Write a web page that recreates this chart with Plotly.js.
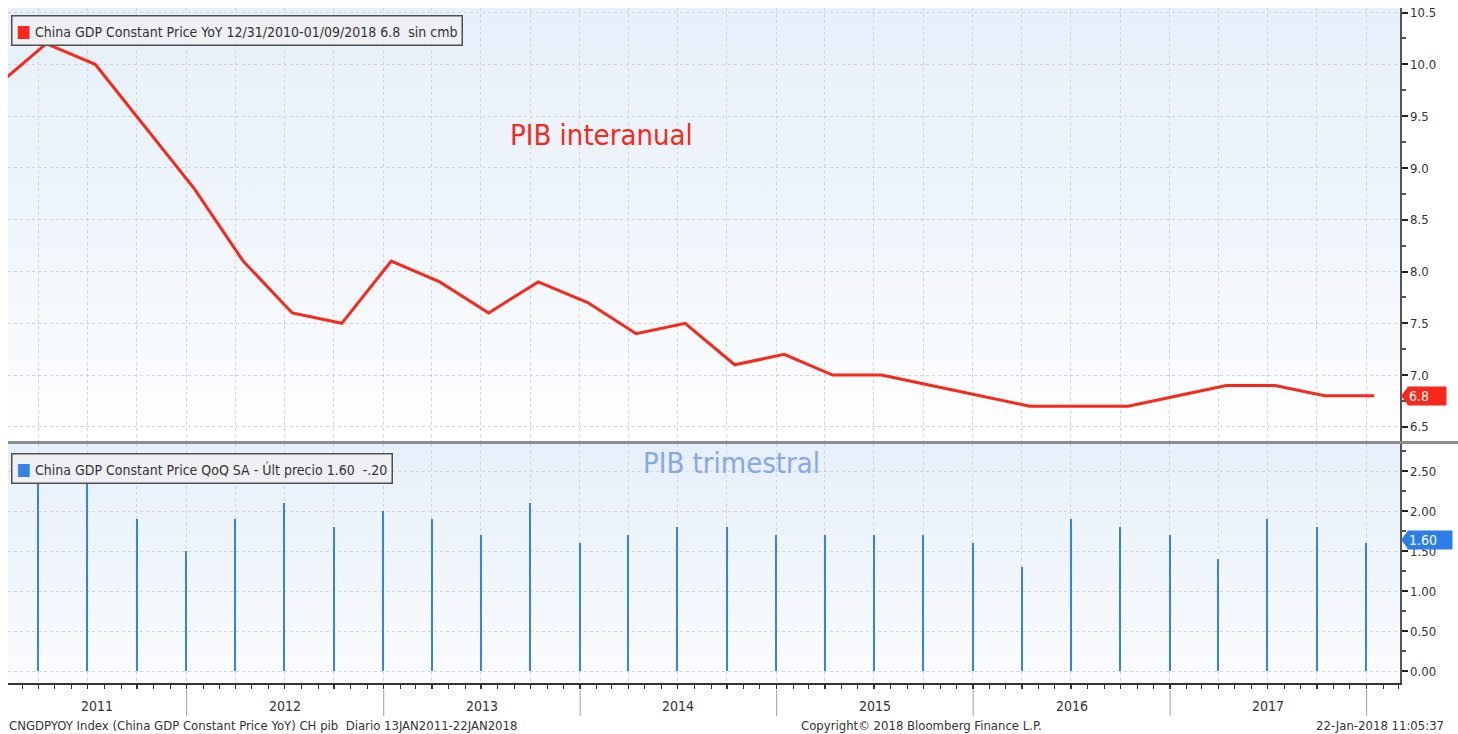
<!DOCTYPE html>
<html>
<head>
<meta charset="utf-8">
<script src="https://cdn.plot.ly/plotly-3.0.1.min.js"></script>
<style>
  html, body { margin:0; padding:0; background:#ffffff; }
  #wrap { position:relative; width:1458px; height:734px; overflow:hidden; }
  #bgTop { position:absolute; left:8px; top:8px; width:1392px; height:433px;
           background:linear-gradient(to bottom, #e6f0fa 0%, #eef4fb 45%, #f8fbfd 80%, #ffffff 100%); }
  #bgBot { position:absolute; left:8px; top:444px; width:1392px; height:239px;
           background:linear-gradient(to bottom, #e6f0fa 0%, #eff5fb 50%, #fbfcfe 100%); }
  #chart { position:absolute; left:0; top:0; width:1458px; height:734px; }
</style>
</head>
<body>
<div id="wrap">
  <div id="bgTop"></div>
  <div id="bgBot"></div>
  <div id="chart"></div>
</div>
<script>
// ---- Data ----
// YoY series: points plotted shortly after each quarter end
const yoyDates = ['2011-01-15','2011-04-15','2011-07-15','2011-10-15','2012-01-15',
  '2012-04-15','2012-07-15','2012-10-15','2013-01-15',
  '2013-04-15','2013-07-15','2013-10-15','2014-01-15',
  '2014-04-15','2014-07-15','2014-10-15','2015-01-15',
  '2015-04-15','2015-07-15','2015-10-15','2016-01-15',
  '2016-04-15','2016-07-15','2016-10-15','2017-01-15',
  '2017-04-15','2017-07-15','2017-10-15','2018-01-15'];
const yoyValues = [9.8, 10.2, 10.0, 9.4, 8.8,
  8.1, 7.6, 7.5, 8.1,
  7.9, 7.6, 7.9, 7.7,
  7.4, 7.5, 7.1, 7.2,
  7.0, 7.0, 6.9, 6.8,
  6.7, 6.7, 6.7, 6.8,
  6.9, 6.9, 6.8, 6.8];

// QoQ series: quarter ends
const qoqDates = ['2011-03-31','2011-06-30','2011-09-30','2011-12-31',
  '2012-03-31','2012-06-30','2012-09-30','2012-12-31',
  '2013-03-31','2013-06-30','2013-09-30','2013-12-31',
  '2014-03-31','2014-06-30','2014-09-30','2014-12-31',
  '2015-03-31','2015-06-30','2015-09-30','2015-12-31',
  '2016-03-31','2016-06-30','2016-09-30','2016-12-31',
  '2017-03-31','2017-06-30','2017-09-30','2017-12-31'];
const qoqValues = [2.4, 2.4, 1.9, 1.5,
  1.9, 2.1, 1.8, 2.0,
  1.9, 1.7, 2.1, 1.6,
  1.7, 1.8, 1.8, 1.7,
  1.7, 1.7, 1.7, 1.6,
  1.3, 1.9, 1.8, 1.7,
  1.4, 1.9, 1.8, 1.6];

const yearLabels = ['2011','2012','2013','2014','2015','2016','2017'];
const yTicksTop = [6.5, 7.0, 7.5, 8.0, 8.5, 9.0, 9.5, 10.0, 10.5];
const yTicksBot = [0, 0.5, 1.0, 1.5, 2.0, 2.5];

const legendTop = 'China GDP Constant Price YoY 12/31/2010-01/09/2018 6.8  sin cmb';
const legendBot = 'China GDP Constant Price QoQ SA - Últ precio 1.60  -.20';
const labelTop = 'PIB interanual';
const labelBot = 'PIB trimestral';
const footLeft = 'CNGDPYOY Index (China GDP Constant Price YoY) CH pib  Diario 13JAN2011-22JAN2018';
const footMid = 'Copyright© 2018 Bloomberg Finance L.P.';
const footRight = '22-Jan-2018 11:05:37';

// ---- Styling ----
const RED = '#f8281a';
const BLUE = '#3584e4';
const CALL_BLUE = '#2a7ee6';
const FONT = 'Liberation Sans Narrow, DejaVu Sans Condensed, Liberation Sans, Arial, sans-serif';
const xRange = ['2011-02-03', '2018-03-04'];

const W = 1458, H = 734;
const M = {l: 8, r: 58, t: 8, b: 51};
const plotH = H - M.t - M.b, plotW = W - M.l - M.r;
const py = px => (H - M.b - px) / plotH;   // pixel row -> paper y
const pxX = px => (px - M.l) / plotW;       // pixel col -> paper x

const lastYoY = yoyValues[yoyValues.length - 1];
const lastQoQ = qoqValues[qoqValues.length - 1];

const traces = [
  {
    type: 'scatter', mode: 'lines', x: yoyDates, y: yoyValues,
    xaxis: 'x', yaxis: 'y',
    line: {color: RED, width: 3}, hoverinfo: 'skip', showlegend: false
  },
  {
    type: 'bar', x: qoqDates, y: qoqValues, xaxis: 'x', yaxis: 'y2',
    width: qoqDates.map(() => 3.6 * 86400000),
    marker: {color: BLUE, line: {width: 0}}, hoverinfo: 'skip', showlegend: false
  }
];

// year label centres: centre of the visible part of each year
const r0 = new Date(xRange[0]).getTime(), r1 = new Date(xRange[1]).getTime();
const annotations = [];
const shapes = [];
yearLabels.forEach(y => {
  const a = Math.max(new Date(y + '-01-01').getTime(), r0);
  const b = Math.min(new Date((+y + 1) + '-01-01').getTime(), r1);
  const mid = new Date((a + b) / 2).toISOString().slice(0, 10);
  annotations.push({xref: 'x', yref: 'paper', x: mid, y: py(706), text: y, showarrow: false,
    xanchor: 'center', yanchor: 'middle', font: {family: FONT, size: 14, color: '#333'}});
  const sep = (+y + 1) + '-01-01';
  shapes.push({type: 'line', xref: 'x', yref: 'paper', x0: sep, x1: sep, y0: py(690), y1: py(716),
    line: {color: '#a0a0a0', width: 1}});
});

// legend boxes
const sq = c => '<span style="color:' + c + ';font-size:17px">■</span> ';
annotations.push({xref: 'paper', yref: 'paper', x: pxX(11), y: py(15), xanchor: 'left', yanchor: 'top',
  text: sq(RED) + legendTop, showarrow: false, align: 'left',
  bgcolor: '#eef0f3', bordercolor: '#505050', borderwidth: 1.5, borderpad: 4,
  font: {family: FONT, size: 14, color: '#333'}});
annotations.push({xref: 'paper', yref: 'paper', x: pxX(11), y: py(453), xanchor: 'left', yanchor: 'top',
  text: sq(BLUE) + legendBot, showarrow: false, align: 'left',
  bgcolor: '#eef0f3', bordercolor: '#505050', borderwidth: 1.5, borderpad: 4,
  font: {family: FONT, size: 14, color: '#333'}});

// big labels
annotations.push({xref: 'paper', yref: 'paper', x: pxX(601), y: py(135), text: labelTop, showarrow: false,
  xanchor: 'center', yanchor: 'middle', font: {family: FONT, size: 29, color: RED}});
annotations.push({xref: 'paper', yref: 'paper', x: pxX(731), y: py(463), text: labelBot, showarrow: false,
  xanchor: 'center', yanchor: 'middle', font: {family: FONT, size: 29, color: '#86a8e8'}});

// footer
annotations.push({xref: 'paper', yref: 'paper', x: pxX(7), y: py(726), text: footLeft, showarrow: false,
  xanchor: 'left', yanchor: 'middle', font: {family: FONT, size: 13, color: '#333'}});
annotations.push({xref: 'paper', yref: 'paper', x: pxX(799), y: py(726), text: footMid, showarrow: false,
  xanchor: 'left', yanchor: 'middle', font: {family: FONT, size: 13, color: '#333'}});
annotations.push({xref: 'paper', yref: 'paper', x: pxX(1446), y: py(726), text: footRight, showarrow: false,
  xanchor: 'right', yanchor: 'middle', font: {family: FONT, size: 13, color: '#333'}});

// last-value callouts
annotations.push({xref: 'paper', yref: 'y', x: pxX(1407), y: lastYoY, text: lastYoY.toFixed(1),
  showarrow: false, xanchor: 'left', yanchor: 'middle', bgcolor: RED, borderpad: 1, width: 36, height: 16,
  align: 'left', font: {family: FONT, size: 14, color: '#ffffff'}});
annotations.push({xref: 'paper', yref: 'y2', x: pxX(1407), y: lastQoQ + 0.04, text: lastQoQ.toFixed(2),
  showarrow: false, xanchor: 'left', yanchor: 'middle', bgcolor: CALL_BLUE, borderpad: 1, width: 42, height: 16,
  align: 'left', font: {family: FONT, size: 14, color: '#ffffff'}});
const dyTop = 9 / 103, dyBot = 9 / 80;
shapes.push({type: 'path', xref: 'paper', yref: 'y',
  path: `M ${pxX(1401)} ${lastYoY} L ${pxX(1408)} ${lastYoY + dyTop} L ${pxX(1408)} ${lastYoY - dyTop} Z`,
  fillcolor: RED, line: {width: 0}});
shapes.push({type: 'path', xref: 'paper', yref: 'y2',
  path: `M ${pxX(1401)} ${lastQoQ + 0.04} L ${pxX(1408)} ${lastQoQ + 0.04 + dyBot} L ${pxX(1408)} ${lastQoQ + 0.04 - dyBot} Z`,
  fillcolor: CALL_BLUE, line: {width: 0}});

// panel separator
shapes.push({type: 'line', xref: 'paper', yref: 'paper', x0: 0, x1: pxX(1458), y0: py(442.5), y1: py(442.5),
  line: {color: '#8c8c8c', width: 3}});

const gridStyle = {showgrid: true, gridcolor: '#cfd4db', griddash: 'dot', gridwidth: 1};

const layout = {
  width: W, height: H,
  margin: M,
  paper_bgcolor: 'rgba(0,0,0,0)', plot_bgcolor: 'rgba(0,0,0,0)',
  showlegend: false,
  bargap: 0,
  xaxis: Object.assign({
    type: 'date', range: xRange, anchor: 'y2',
    tickmode: 'array', tickvals: qoqDates, showticklabels: false,
    ticks: 'outside', ticklen: 4, tickcolor: '#333', tickwidth: 1,
    minor: {dtick: 'M1', tick0: '2011-01-01', ticks: 'outside', ticklen: 4, tickcolor: '#333', showgrid: false},
    showline: true, linecolor: '#333', linewidth: 1.5, zeroline: false, fixedrange: true
  }, gridStyle),
  yaxis: Object.assign({
    domain: [py(441), 1], range: [6.364, 10.544], side: 'right', anchor: 'x',
    tickmode: 'array', tickvals: yTicksTop, ticktext: yTicksTop.map(v => v.toFixed(1)),
    ticks: 'outside', ticklen: 6, tickwidth: 2, tickcolor: '#222',
    minor: {dtick: 0.25, tick0: 6.25, ticks: 'outside', ticklen: 4, tickcolor: '#555', showgrid: false},
    showline: true, linecolor: '#555', linewidth: 1.5, zeroline: false,
    tickfont: {family: FONT, size: 13, color: '#333'}, fixedrange: true
  }, gridStyle),
  yaxis2: Object.assign({
    domain: [0, py(444)], range: [-0.15, 2.8375], side: 'right', anchor: 'x',
    tickmode: 'array', tickvals: yTicksBot, ticktext: yTicksBot.map(v => v.toFixed(2)),
    ticks: 'outside', ticklen: 6, tickwidth: 2, tickcolor: '#222',
    minor: {dtick: 0.25, tick0: 0, ticks: 'outside', ticklen: 4, tickcolor: '#555', showgrid: false},
    showline: true, linecolor: '#555', linewidth: 1.5, zeroline: false,
    tickfont: {family: FONT, size: 13, color: '#333'}, fixedrange: true
  }, gridStyle),
  annotations: annotations,
  shapes: shapes
};

Plotly.newPlot('chart', traces, layout, {displayModeBar: false, staticPlot: true});
</script>
</body>
</html>
